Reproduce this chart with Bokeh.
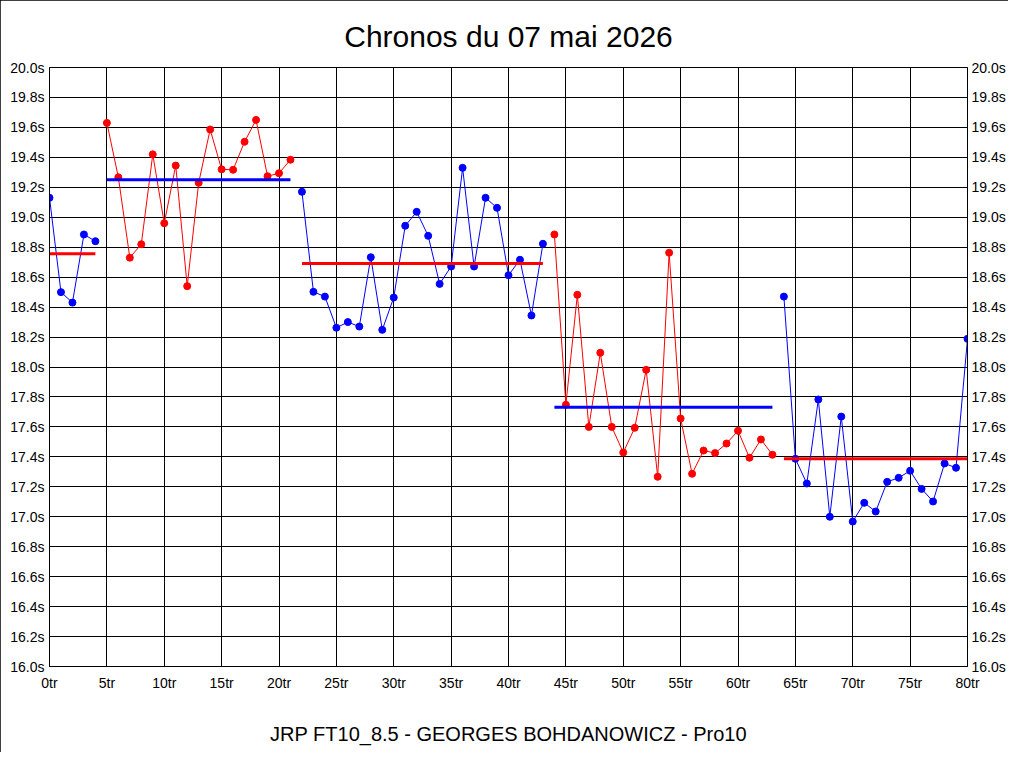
import numpy as np
from bokeh.plotting import figure
from bokeh.models import LinearAxis, FixedTicker, PrintfTickFormatter, Range1d, ColumnDataSource
from bokeh.embed import file_html
from bokeh.resources import INLINE

title_text = "Chronos du 07 mai 2026"
footer_text = "JRP FT10_8.5 - GEORGES BOHDANOWICZ - Pro10"

# lap times (s) per lap 0..80
times = [
    19.13, 18.50, 18.43, 18.885, 18.84,
    19.63, 19.267, 18.73, 18.82, 19.42, 18.96, 19.345, 18.54, 19.23, 19.586,
    19.32, 19.317, 19.504, 19.65, 19.274, 19.294, 19.384,
    19.17, 18.502, 18.47, 18.262, 18.30, 18.27, 18.733, 18.248, 18.464, 18.943,
    19.036, 18.876, 18.555, 18.671, 19.33, 18.671, 19.13, 19.063, 18.613, 18.716,
    18.344, 18.823,
    18.885, 17.748, 18.482, 17.60, 18.095, 17.60, 17.429, 17.594, 17.981, 17.267,
    18.763, 17.656, 17.287, 17.442, 17.425, 17.489, 17.574, 17.394, 17.516, 17.414,
    18.47, 17.387, 17.222, 17.783, 17.00, 17.669, 16.968, 17.093, 17.035, 17.233,
    17.26, 17.307, 17.186, 17.102, 17.356, 17.327, 18.188,
]
laps = list(range(len(times)))

# segments (first lap, last lap) and their colours
seg_start = [0, 5, 22, 44, 64]
seg_end = [4, 21, 43, 63, 80]
seg_color = ["#0000ff", "#ff0000", "#0000ff", "#ff0000", "#0000ff"]
avg_color = ["#ff0000", "#0000ff", "#ff0000", "#0000ff", "#ff0000"]

x_ticks = list(range(0, 81, 5))
y_ticks = [16.0, 16.2, 16.4, 16.6, 16.8, 17.0, 17.2, 17.4, 17.6, 17.8, 18.0,
           18.2, 18.4, 18.6, 18.8, 19.0, 19.2, 19.4, 19.6, 19.8, 20.0]

FONT = "Liberation Sans"

p = figure(width=1008, height=752, output_backend="svg", toolbar_location=None,
           x_range=Range1d(0, 80), y_range=Range1d(16, 20),
           min_border_left=49, min_border_right=39, min_border_top=67, min_border_bottom=86,
           title=title_text)
p.styles = {"outline": "1px solid black", "outline-offset": "-1px"}
p.title.align = "center"
p.title.text_font = FONT
p.title.text_font_size = "30px"
p.title.text_font_style = "normal"
p.title.text_color = "black"
p.title.standoff = 30
p.outline_line_color = "black"
p.background_fill_color = "white"
p.border_fill_color = "white"

yaxis_r = LinearAxis()
p.add_layout(yaxis_r, "right")

for ax in [p.xaxis[0], p.yaxis[0], yaxis_r]:
    ax.major_tick_out = 0
    ax.major_tick_in = 0
    ax.minor_tick_out = 0
    ax.minor_tick_in = 0
    ax.axis_line_color = "black"
    ax.major_label_text_font = FONT
    ax.major_label_text_font_size = "14px"
    ax.major_label_text_color = "black"

p.xaxis[0].ticker = FixedTicker(ticks=x_ticks)
p.xaxis[0].formatter = PrintfTickFormatter(format="%dtr")
p.xaxis[0].major_label_standoff = 8
p.xaxis[0].axis_label = footer_text
p.xaxis[0].axis_label_text_font = FONT
p.xaxis[0].axis_label_text_font_size = "20px"
p.xaxis[0].axis_label_text_font_style = "normal"
p.xaxis[0].axis_label_text_color = "black"
p.xaxis[0].axis_label_standoff = 29

for ax in [p.yaxis[0], yaxis_r]:
    ax.ticker = FixedTicker(ticks=y_ticks)
    ax.formatter = PrintfTickFormatter(format="%.1fs")
p.yaxis[0].major_label_standoff = 5
yaxis_r.major_label_standoff = 4

p.xgrid.ticker = FixedTicker(ticks=x_ticks)
p.ygrid.ticker = FixedTicker(ticks=y_ticks)
p.grid.grid_line_color = "black"
p.grid.grid_line_alpha = 1.0
p.grid.grid_line_width = 1

for s, e, c, ac in zip(seg_start, seg_end, seg_color, avg_color):
    xs = laps[s:e + 1]
    ys = times[s:e + 1]
    src = ColumnDataSource(dict(x=xs, y=ys))
    p.line("x", "y", source=src, line_color=c, line_width=1)
    p.scatter("x", "y", source=src, size=7, fill_color=c, line_color=c)
    m = float(np.mean(ys))
    p.line([xs[0], xs[-1]], [m, m], line_color=ac, line_width=3)

open("out.html", "w").write(file_html(p, INLINE))
